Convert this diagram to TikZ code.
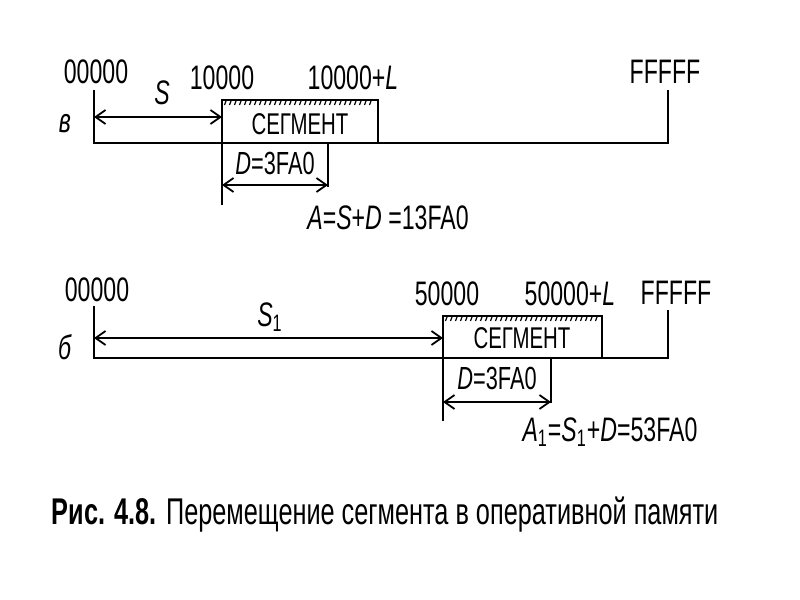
\documentclass[tikz,border=0pt]{standalone}
\usepackage{fontspec}
\setmainfont{Liberation Sans}[FakeStretch=0.68]
\usetikzlibrary{arrows.meta}
\tikzset{
  lbl/.style={inner sep=0pt, font=\fontsize{17}{18}\selectfont},
  small/.style={inner sep=0pt, font=\fontsize{15}{16}\selectfont},
  dim/.style={{Straight Barb[length=5pt,width=7pt]}-{Straight Barb[length=5pt,width=7pt]}, line width=0.9pt},
  hatch/.style={line width=0.6pt},
}
\begin{document}
\begin{tikzpicture}[x=0.5pt,y=-0.5pt,line width=1.2pt]
  \useasboundingbox (0,0) rectangle (800,600);
  % panel a
  \node [lbl] (zeroA) at (96,72) {00000};
  \node [lbl] (ffA) at (665,72) {FFFFF};
  \node [lbl] (startA) at (222,78) {10000};
  \node [lbl] (endA) at (353,78) {10000+\textit{L}};
  \node [lbl] (sA) at (162,93) {\textit{S}};
  \node [lbl] (markA) at (65,124) {\textit{в}};
  \draw (94,90) -- (94,143) -- (668,143) -- (668,90);
  \draw (222,205) -- (222,100) rectangle (378,143);
  \foreach \x in {226,231,...,374} \draw [hatch] (\x,101) -- ++(-1.5,4);
  \node [small] (segA) at (300,124) {СЕГМЕНТ};
  \draw (328,143) -- (328,187);
  \node [small, font=\fontsize{16}{17}\selectfont] (dA) at (275,163) {\textit{D}=3FA0};
  \draw [dim] (94,117) -- (222,117);
  \draw [dim] (222,185) -- (328,185);
  \node [lbl] (addrA) at (388,218) {\textit{A}=\textit{S}+\textit{D} =13FA0};
  % panel b
  \node [lbl] (zeroB) at (97,290) {00000};
  \node [lbl] (ffB) at (676,293) {FFFFF};
  \node [lbl] (startB) at (447,294) {50000};
  \node [lbl] (endB) at (570,294) {50000+\textit{L}};
  \node [lbl] (sB) at (270,317) {\textit{S}\textsubscript{1}};
  \node [lbl] (markB) at (65,347) {\textit{б}};
  \draw (94,306) -- (94,358) -- (668,358) -- (668,310);
  \draw (443,421) -- (443,316) rectangle (602,358);
  \foreach \x in {447,452,...,598} \draw [hatch] (\x,317) -- ++(-1.5,4);
  \node [small] (segB) at (522,338) {СЕГМЕНТ};
  \draw (551,358) -- (551,403);
  \node [small, font=\fontsize{16}{17}\selectfont] (dB) at (497,378) {\textit{D}=3FA0};
  \draw [dim] (94,338) -- (443,338);
  \draw [dim] (443,402) -- (551,402);
  \node [lbl] (addrB) at (610,432) {\textit{A}\textsubscript{1}=\textit{S}\textsubscript{1}+\textit{D}=53FA0};
  % caption
  \node [inner sep=0pt, font=\fontsize{18.6}{20}\selectfont] (cap) at (385,515)
    {\textbf{Рис. 4.8.} Перемещение сегмента в оперативной памяти};
\end{tikzpicture}
\end{document}
